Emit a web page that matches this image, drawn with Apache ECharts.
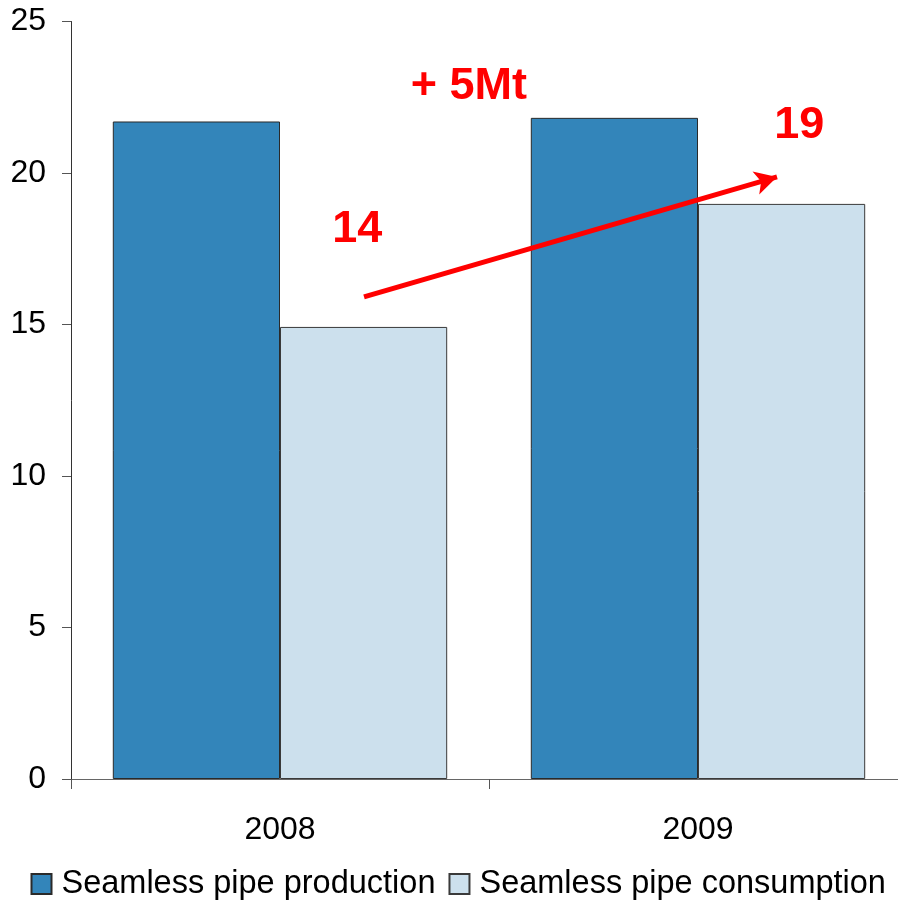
<!DOCTYPE html>
<html>
<head>
<meta charset="utf-8">
<script src="https://cdn.jsdelivr.net/npm/echarts@6/dist/echarts.min.js"></script>
<style>html,body{margin:0;padding:0;background:#fff;overflow:hidden}#c{width:912px;height:901px}</style>
</head>
<body>
<div id="c"></div>
<script>
var categories = ['2008', '2009'];
var seriesNames = ['Seamless pipe production', 'Seamless pipe consumption'];
var production = [21.7, 21.82];
var consumption = [14.92, 18.98];
var yTicks = [0, 5, 10, 15, 20, 25];
// annotations in [x position on 0..2 category span, y value, text]
var annotations = [[0.685, 18.12, '14'], [1.742, 21.55, '19'], [0.952, 22.85, '+ 5Mt']];
var arrowFrom = [0.701, 15.91];
var arrowTo = [1.689, 19.87];

var FONT = 'Liberation Sans, Arial, sans-serif';
var chart = echarts.init(document.getElementById('c'));
chart.setOption({
  animation: false,
  grid: { left: 71, top: 21.5, width: 836, height: 757.5, containLabel: false },
  legend: {
    left: 30.5, top: 867.5, padding: 0, itemWidth: 20, itemHeight: 20, itemGap: 13,
    textStyle: { fontFamily: FONT, fontSize: 32.5, color: '#000', padding: [0, 0, 0, 5] },
    data: seriesNames, icon: 'rect'
  },
  xAxis: [{
    type: 'category', data: categories,
    axisLine: { lineStyle: { color: '#666', width: 1 } },
    axisTick: { show: true, length: 10, lineStyle: { color: '#555' } },
    axisLabel: { fontFamily: FONT, fontSize: 32, color: '#000', margin: 35 }
  }, {
    type: 'value', min: 0, max: 2, show: false
  }],
  yAxis: [{
    type: 'value', min: yTicks[0], max: yTicks[yTicks.length - 1], interval: 5,
    splitLine: { show: false },
    axisLine: { show: true, lineStyle: { color: '#333', width: 1 } },
    axisTick: { show: true, length: 9, lineStyle: { color: '#555' } },
    axisLabel: { fontFamily: FONT, fontSize: 32, color: '#000', margin: 25 }
  }],
  series: [{
    name: seriesNames[0], type: 'bar', data: production,
    barGap: '0%', barCategoryGap: '20%',
    itemStyle: { color: '#3385BA', borderColor: '#2a2a2a', borderWidth: 1 }
  }, {
    name: seriesNames[1], type: 'bar', data: consumption,
    barGap: '0%', barCategoryGap: '20%',
    itemStyle: { color: '#CCE0ED', borderColor: '#3a3a3a', borderWidth: 1 }
  }, {
    name: 'annot', type: 'scatter', xAxisIndex: 1, yAxisIndex: 0,
    symbolSize: 0, data: annotations, silent: true,
    itemStyle: { opacity: 1 },
    label: {
      show: true, position: 'inside', color: '#FF0000', fontFamily: FONT,
      fontWeight: 'bold', fontSize: 45, opacity: 1,
      formatter: function (p) { return p.value[2]; }
    },
    markLine: {
      silent: true, symbol: ['none', 'arrow'], symbolSize: [18, 22],
      label: { show: false },
      lineStyle: { color: '#FF0000', width: 5, type: 'solid', opacity: 1 },
      data: [[{ coord: arrowFrom }, { coord: arrowTo }]]
    }
  }]
});
</script>
</body>
</html>
